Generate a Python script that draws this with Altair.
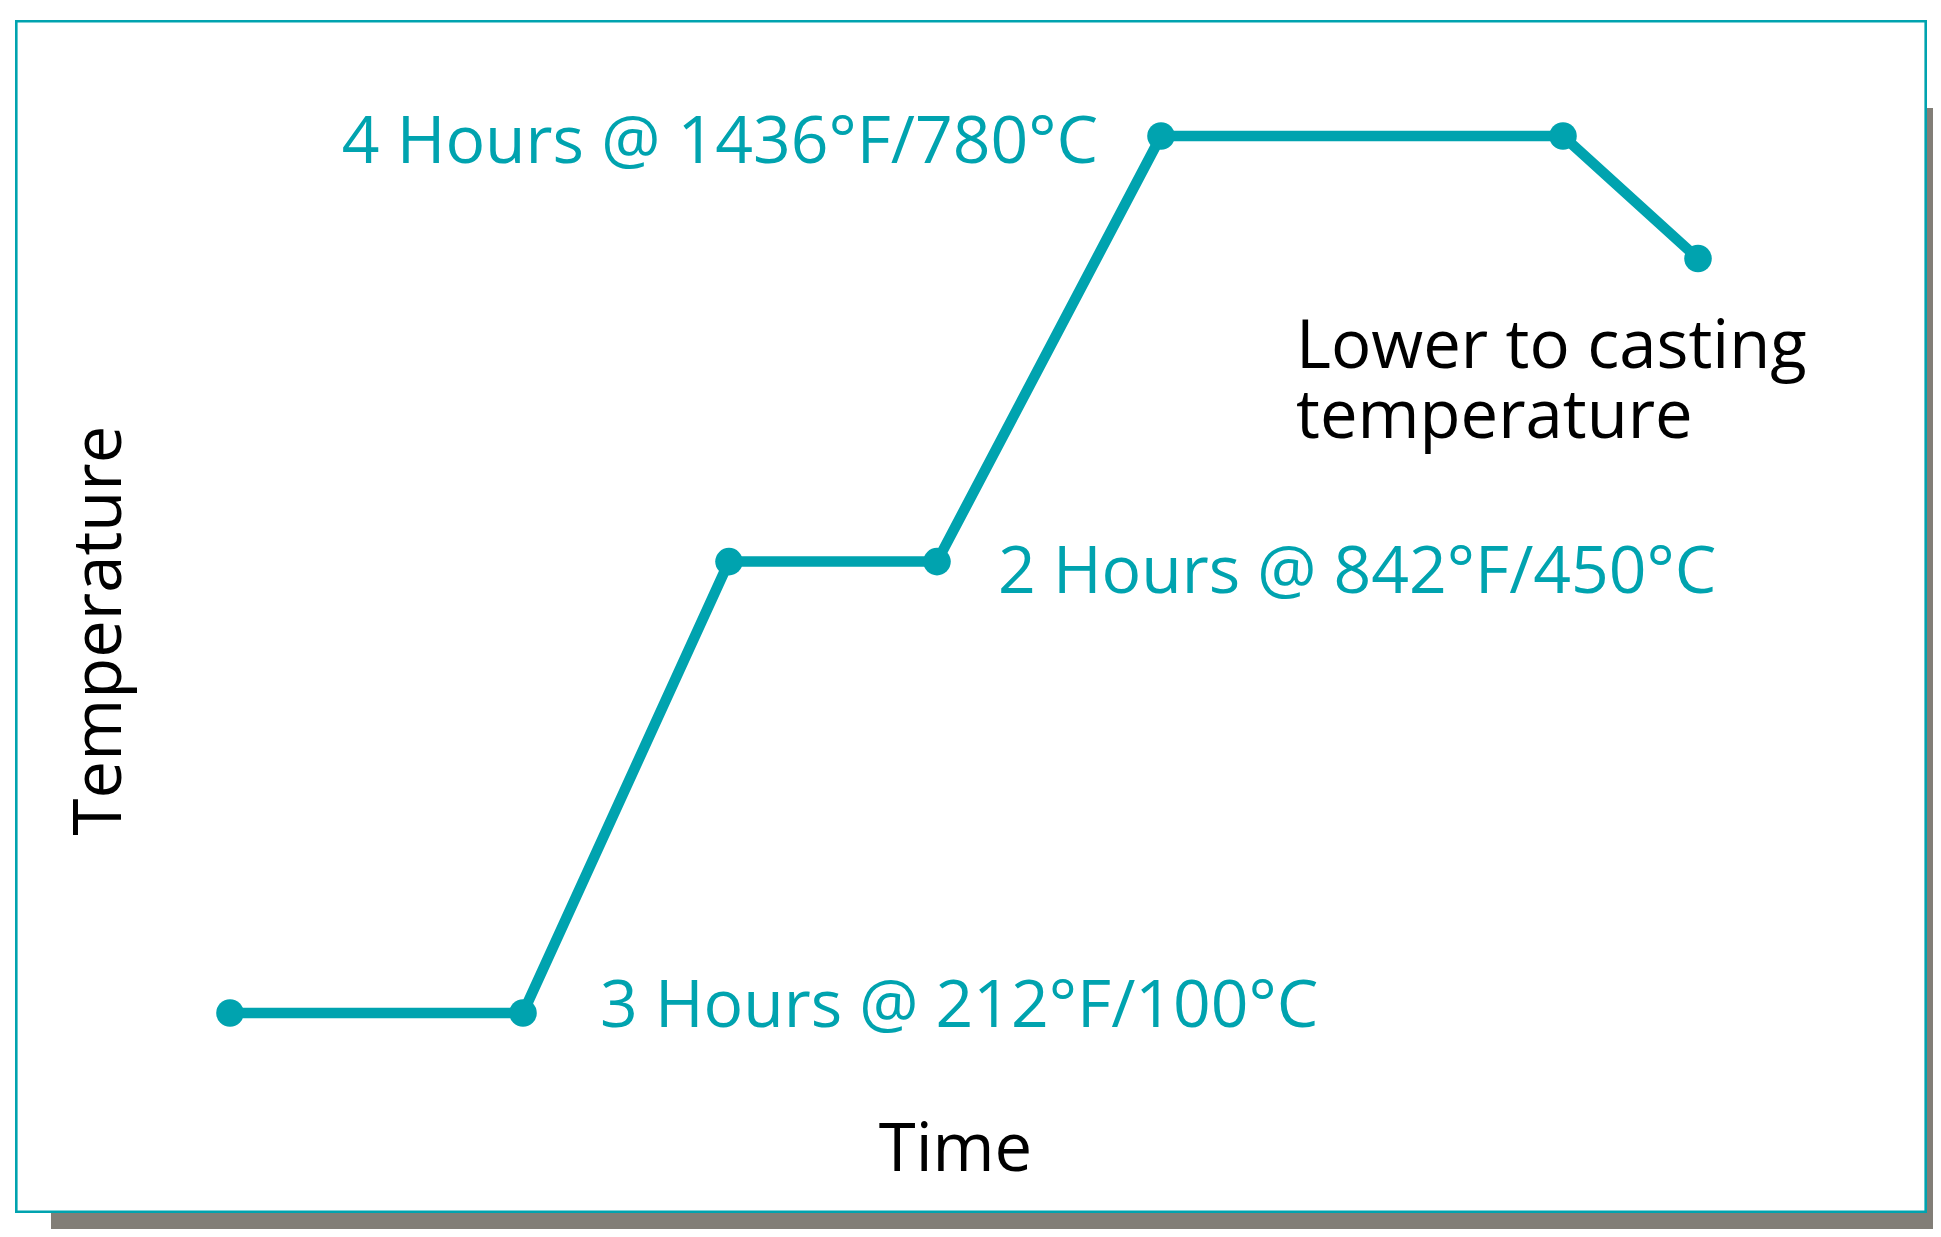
import altair as alt
import pandas as pd

# Schematic heat-treatment profile (time in hours, temperature in °C)
time_h = [0, 2.93, 4.99, 7.07, 9.31, 13.33, 14.68]
temp_c = [100, 100, 450, 450, 780, 780, 685]
step = [0, 1, 2, 3, 4, 5, 6]
labels = ["", "3 Hours @ 212°F/100°C", "", "2 Hours @ 842°F/450°C",
          "4 Hours @ 1436°F/780°C", "", "Lower to casting"]
labels2 = ["", "", "", "", "", "", "temperature"]

x_title = "Time"
y_title = "Temperature"

TEAL = "#00a3af"
GREY = "#827e77"
FONT = "Open Sans"
W, H = 1925, 1221

df = pd.DataFrame({"time": time_h, "temp": temp_c, "step": step,
                   "label": labels, "label2": labels2})

xs = alt.Scale(domain=[-2.22, 17.03], nice=False, zero=False)
ys = alt.Scale(domain=[-67.45, 879.25], nice=False, zero=False)

x_axis = alt.Axis(title=x_title, labels=False, ticks=False, domain=False, grid=False,
                  titleX=947, titleY=-59, titleBaseline="alphabetic", titleAlign="center",
                  titleFont=FONT, titleFontSize=67, titleFontWeight="normal",
                  titleColor="black", zindex=1)
y_axis = alt.Axis(title=y_title, labels=False, ticks=False, domain=False, grid=False,
                  titleX=112, titleY=622, titleAngle=270, titleBaseline="alphabetic",
                  titleAlign="center", titleFont=FONT, titleFontSize=67,
                  titleFontWeight="normal", titleColor="black", zindex=1)

one = alt.Data(values=[{"k": 1}])

shadow = alt.Chart(one).mark_rect(color=GREY).encode(
    x=alt.value(43), x2=alt.value(W), y=alt.value(100), y2=alt.value(H))
frame = alt.Chart(one).mark_rect(fill="white", stroke=TEAL, strokeWidth=2.6).encode(
    x=alt.value(8.3), x2=alt.value(1917.7), y=alt.value(13.3), y2=alt.value(1203.7))

base = alt.Chart(df).encode(
    x=alt.X("time:Q", scale=xs, axis=x_axis),
    y=alt.Y("temp:Q", scale=ys, axis=y_axis),
)
line = base.mark_line(color=TEAL, strokeWidth=10.5)
pts = base.mark_circle(color=TEAL, size=760, opacity=1)

tstyle = dict(font=FONT, fontSize=66, color=TEAL, baseline="alphabetic")
bstyle = dict(font=FONT, fontSize=67, color="black", baseline="alphabetic")
lab3 = base.transform_filter("datum.step == 1").mark_text(
    align="left", dx=77, dy=14, **tstyle).encode(text="label:N")
lab2 = base.transform_filter("datum.step == 3").mark_text(
    align="left", dx=61, dy=31, **tstyle).encode(text="label:N")
lab4 = base.transform_filter("datum.step == 4").mark_text(
    align="right", dx=-63, dy=27, **tstyle).encode(text="label:N")
lab_end1 = base.transform_filter("datum.step == 6").mark_text(
    align="left", dx=-402, dy=109, **bstyle).encode(text="label:N")
lab_end2 = base.transform_filter("datum.step == 6").mark_text(
    align="left", dx=-402, dy=179, **bstyle).encode(text="label2:N")

chart = alt.layer(shadow, frame, line, pts, lab3, lab2, lab4, lab_end1, lab_end2).properties(
    width=W, height=H, padding=0,
    autosize=alt.AutoSizeParams(type="none"),
    background="white",
).configure_view(stroke=None)

chart.save("out.html", embed_options={"renderer": "svg", "actions": False})
